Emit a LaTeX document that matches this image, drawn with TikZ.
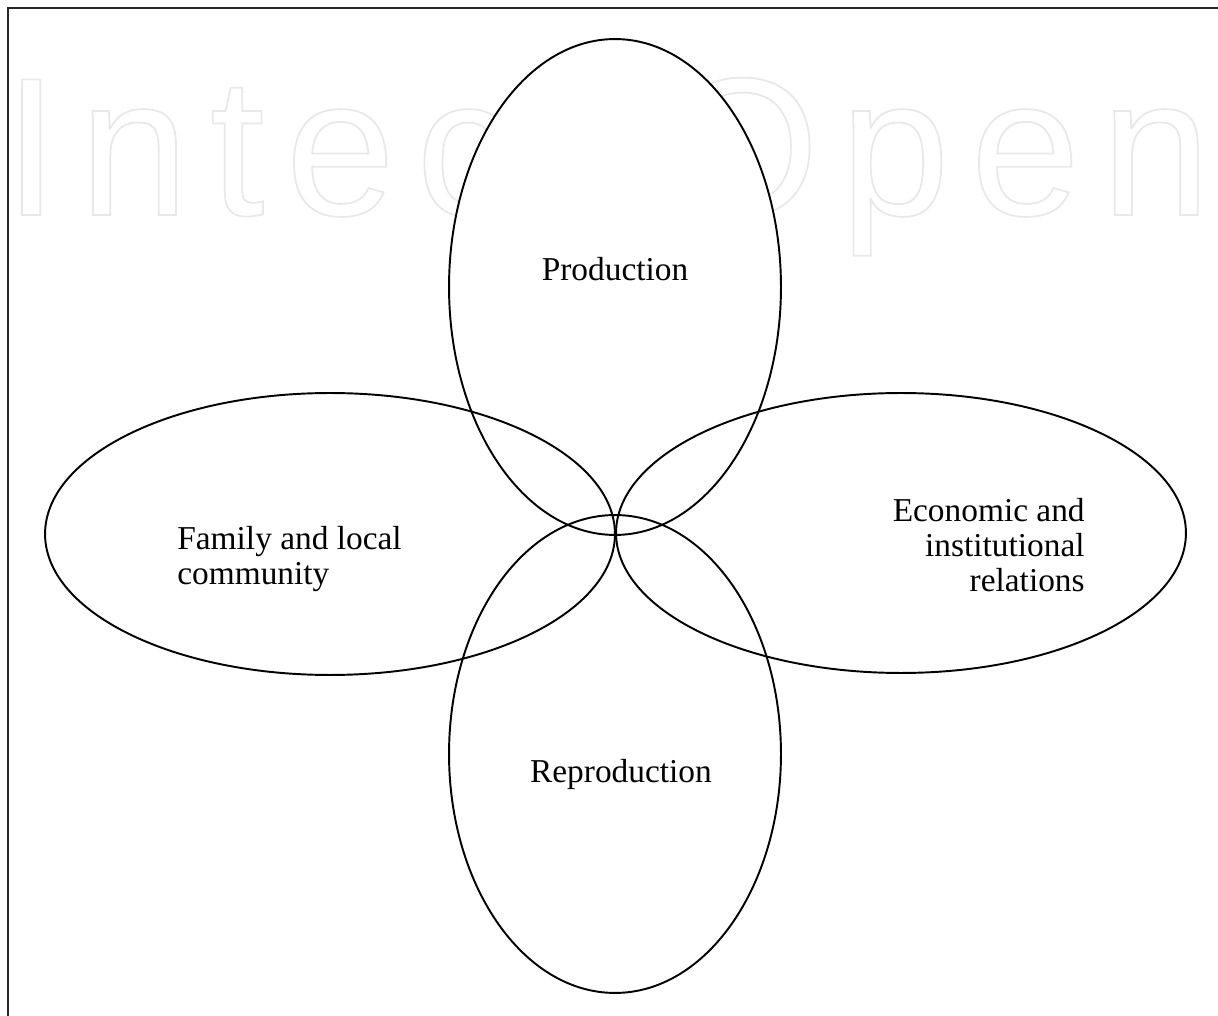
\documentclass[tikz,border=0pt]{standalone}
\usepackage{fontspec}
\setmainfont{Liberation Serif}
\newfontfamily\markfont[LetterSpace=10.7]{Liberation Sans}
\usetikzlibrary{shapes.geometric}

\tikzset{
  petal/.style={ellipse, draw, line width=1.1pt, inner sep=0pt},
  lbl/.style={font=\fontsize{19}{20}\selectfont},
}
\newcommand{\outlined}[1]{\special{pdf:literal direct 1 Tr 1 w}#1\special{pdf:literal direct 0 Tr}}

\begin{document}
\begin{tikzpicture}[x=0.02cm,y=-0.02cm]
\useasboundingbox (0,0) rectangle (1218,1016);

% watermark behind the top petal
\node[anchor=base west, text=black!9, font=\markfont\fontsize{112}{112}\selectfont,
      inner sep=0pt] (mark) at (3.5,215) {\outlined{IntechOpen}};

% frame
\draw[line width=1.4pt, black!85] (8,1016) -- (8,8) -- (1218,8);

% the four petals
\node[petal, fill=white, minimum width=6.64cm, minimum height=9.92cm] (prod) at (615,287) {};
\node[petal, minimum width=6.64cm, minimum height=9.56cm] (repro) at (615,754) {};
\node[petal, minimum width=11.4cm, minimum height=5.64cm] (family) at (330,534) {};
\node[petal, minimum width=11.4cm, minimum height=5.6cm] (econ) at (901,533) {};

% labels
\node[lbl, anchor=base] (prodtxt) at (615,281) {Production};
\node[lbl, anchor=base] (reprotxt) at (621,783) {Reproduction};
\node[lbl, anchor=base west, align=left, inner sep=0pt] (famtxt) at (177,585) {Family and local\\community};
\node[lbl, anchor=base east, align=right, inner sep=0pt] (econtxt) at (1085,592) {Economic and\\institutional\\relations};
\end{tikzpicture}
\end{document}
